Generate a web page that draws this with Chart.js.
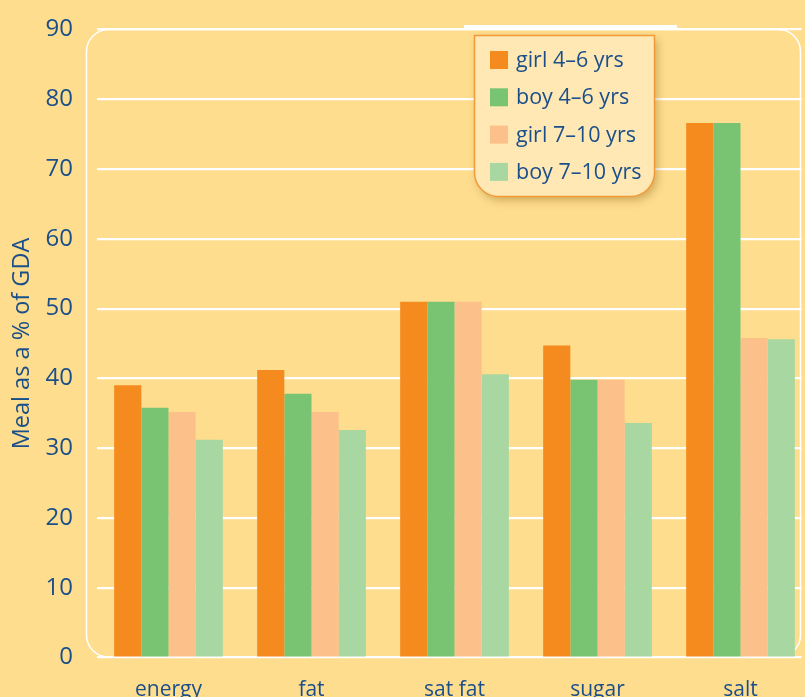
<!DOCTYPE html>
<html>
<head>
<meta charset="utf-8">
<script src="https://cdn.jsdelivr.net/npm/chart.js@4"></script>
<style>
  html, body { margin: 0; padding: 0; overflow: hidden; background: #FEDD8E; }
  #wrap { width: 812px; height: 697px; position: relative; }
</style>
</head>
<body>
<div id="wrap"><canvas id="myChart"></canvas></div>
<script>
// Meal as a % of GDA
const categories = ['energy', 'fat', 'sat fat', 'sugar', 'salt'];
const girl46 = [39, 41.2, 51, 44.7, 76.6];
const boy46 = [35.8, 37.8, 51, 39.8, 76.6];
const girl710 = [35.2, 35.2, 51, 39.8, 45.8];
const boy710 = [31.2, 32.6, 40.6, 33.6, 45.6];
const seriesNames = ['girl 4\u20136 yrs', 'boy 4\u20136 yrs', 'girl 7\u201310 yrs', 'boy 7\u201310 yrs'];
const seriesColors = ['#F58B1F', '#78C472', '#FCC08A', '#A9D7A1'];
const yTicks = [0, 10, 20, 30, 40, 50, 60, 70, 80, 90];

const blue = '#1B4F8A';
const bg = '#FEDD8E';
const font = '"Open Sans", "Noto Sans", sans-serif';

// white frame + legend box
const decor = {
  id: 'decor',
  beforeDatasetsDraw(chart) {
    const c = chart.ctx;
    c.save();
    // gridlines stop at the frame
    c.fillStyle = bg;
    c.fillRect(801.5, 0, 20, 697);
    c.strokeStyle = '#fff';
    c.lineWidth = 1.5;
    c.beginPath();
    c.roundRect(86.5, 29.5, 714, 627.5, 22);
    c.stroke();
    c.restore();
  },
  afterDraw(chart) {
    const c = chart.ctx;
    c.save();
    c.fillStyle = '#fff';
    c.fillRect(464, 25, 213, 4.5);
    // legend box
    c.shadowColor = 'rgba(120,80,0,0.35)';
    c.shadowBlur = 8;
    c.shadowOffsetX = 3;
    c.shadowOffsetY = 4;
    c.fillStyle = '#FFE8B4';
    c.beginPath();
    c.roundRect(474.5, 35.5, 180, 161, [0, 0, 24, 24]);
    c.fill();
    c.shadowColor = 'transparent';
    c.strokeStyle = '#F29A38';
    c.lineWidth = 1.5;
    c.stroke();
    c.font = '21.5px ' + font;
    c.textBaseline = 'middle';
    chart.data.datasets.forEach((ds, i) => {
      const y = 60 + i * 37.3;
      c.fillStyle = ds.backgroundColor;
      c.fillRect(490, y - 9, 18, 18);
      c.fillStyle = blue;
      c.fillText(ds.label, 516, y + 1);
    });
    c.restore();
  }
};

const ctx = document.getElementById('myChart');

new Chart(ctx, {
  type: 'bar',
  data: {
    labels: categories,
    datasets: [girl46, boy46, girl710, boy710].map((d, i) => ({
      label: seriesNames[i],
      data: d,
      backgroundColor: seriesColors[i],
      borderWidth: 0,
      categoryPercentage: 0.76,
      barPercentage: 1
    }))
  },
  options: {
    responsive: true,
    maintainAspectRatio: false,
    animation: false,
    layout: { padding: { top: 29.5, right: 0, left: 0, bottom: 0 } },
    plugins: {
      legend: { display: false },
      tooltip: { enabled: false }
    },
    scales: {
      x: {
        grid: { display: false, drawTicks: false },
        border: { display: false },
        ticks: { color: blue, font: { family: font, size: 21 }, padding: 20 },
        afterFit(scale) { scale.height = 39.5; scale.paddingLeft = 0; scale.paddingRight = 0; }
      },
      y: {
        min: 0,
        max: 90,
        afterBuildTicks(scale) { scale.ticks = yTicks.map(v => ({ value: v })); },
        grid: { color: '#fff', lineWidth: 2.2, drawTicks: false },
        border: { display: false },
        ticks: { color: blue, font: { family: font, size: 24 }, padding: 24 },
        title: {
          display: true,
          text: 'Meal as a % of GDA',
          color: blue,
          font: { family: font, size: 23.5, weight: '500' },
          padding: { top: 8, bottom: 0 }
        },
        afterFit(scale) { scale.width = 97; scale.paddingTop = 0; scale.paddingBottom = 0; }
      }
    }
  },
  plugins: [decor]
});
</script>
</body>
</html>
